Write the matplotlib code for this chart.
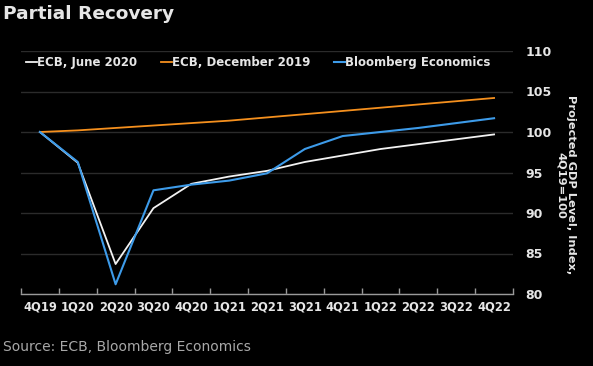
import numpy as np
import matplotlib.pyplot as plt

quarters = ["4Q19", "1Q20", "2Q20", "3Q20", "4Q20", "1Q21", "2Q21",
            "3Q21", "4Q21", "1Q22", "2Q22", "3Q22", "4Q22"]
ecb_june_2020 = [100.0, 96.2, 83.7, 90.6, 93.6, 94.5, 95.2,
                 96.3, 97.1, 97.9, 98.5, 99.1, 99.7]
ecb_dec_2019 = [100.0, 100.2, 100.5, 100.8, 101.1, 101.4, 101.8,
                102.2, 102.6, 103.0, 103.4, 103.8, 104.2]
bloomberg = [100.0, 96.3, 81.2, 92.8, 93.5, 94.0, 94.9,
             97.9, 99.5, 100.0, 100.5, 101.1, 101.7]
yticks = [80, 85, 90, 95, 100, 105, 110]

BG = "#000000"
TXT = "#e6e6e6"
WHITE = "#f2f2f2"
ORANGE = "#f5901e"
BLUE = "#3d9be9"

fig = plt.figure(figsize=(5.93, 3.66), dpi=100, facecolor=BG)
ax = fig.add_axes([21 / 593, 72 / 366, 492 / 593, 243 / 366], facecolor=BG)

x = np.arange(len(quarters))
ax.plot(x, ecb_june_2020, color=WHITE, lw=1.3, label="ECB, June 2020")
ax.plot(x, ecb_dec_2019, color=ORANGE, lw=1.3, label="ECB, December 2019")
ax.plot(x, bloomberg, color=BLUE, lw=1.5, label="Bloomberg Economics")

ax.set_xlim(-0.5, len(quarters) - 0.5)
ax.set_ylim(80, 110)

# category labels sit between the tick marks
ax.set_xticks(np.arange(-0.5, len(quarters)), minor=False)
ax.set_xticklabels([])
ax.set_xticks(x, minor=True)
ax.set_xticklabels(quarters, minor=True, fontsize=8.3, fontweight="bold", color=TXT)
ax.tick_params(axis="x", which="major", direction="in", length=4, color="#9a9a9a", width=1)
ax.tick_params(axis="x", which="minor", length=0, pad=5)

ax.yaxis.tick_right()
ax.set_yticks(yticks)
ax.set_yticklabels([str(v) for v in yticks], fontsize=9, fontweight="bold", color=TXT)
ax.tick_params(axis="y", length=0, pad=9)
ax.grid(axis="y", color="#2b2b2b", lw=1)
ax.set_axisbelow(True)

for side in ["top", "left", "right"]:
    ax.spines[side].set_visible(False)
ax.spines["bottom"].set_color("#9a9a9a")
ax.spines["bottom"].set_linewidth(1)

fig.text(566 / 593, 1 - 185 / 366, "Projected GDP Level, Index,\n4Q19=100",
         rotation=-90, ha="center", va="center", multialignment="center",
         fontsize=8.2, fontweight="bold", color=TXT, linespacing=1.0)

leg = ax.legend(loc="upper left", bbox_to_anchor=(26 / 593, 1 - 56 / 366),
                bbox_transform=fig.transFigure, ncol=3, frameon=False,
                handlelength=0.9, handletextpad=0.05, columnspacing=2.0,
                prop={"size": 8.5, "weight": "bold"}, borderaxespad=0, borderpad=0)
for t in leg.get_texts():
    t.set_color(TXT)

fig.text(3 / 593, 1 - 14 / 366, "Partial Recovery", fontsize=13.3, fontweight="bold",
         color=TXT, va="center", ha="left")
fig.text(3 / 593, 1 - 347 / 366, "Source: ECB, Bloomberg Economics", fontsize=10,
         color="#a8a8a8", va="center", ha="left")

fig.savefig("out.png", dpi=100, facecolor=BG)
